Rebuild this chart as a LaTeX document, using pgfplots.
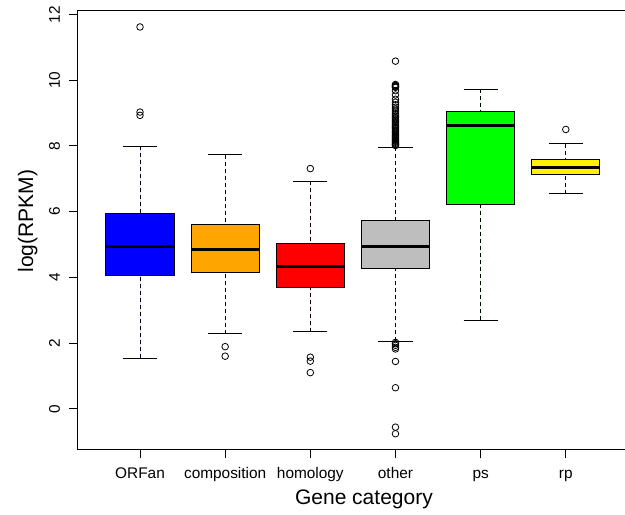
\documentclass[border=0pt]{standalone}
\usepackage{fontspec}
\setmainfont{Liberation Sans}
\usepackage{pgfplots}
\pgfplotsset{compat=1.18}
\usepgfplotslibrary{statistics}
\begin{document}
\begin{tikzpicture}
\begin{axis}[
  at={(77pt,65pt)}, anchor=south west,
  scale only axis, width=551.8pt, height=439.3pt,
  xmin=0.26, xmax=6.74, ymin=-1.255, ymax=12.115,
  xtick={1,2,3,4,5,6},
  xticklabels={ORFan,composition,homology,other,ps,rp},
  ytick={0,2,4,6,8,10,12},
  xtick pos=bottom, ytick pos=left,
  tick align=outside, major tick length=8pt,
  tick style={black, line width=0.9pt},
  axis line style={black, line width=1pt},
  /pgf/number format/assume math mode=true,
  tick label style={font=\fontsize{15.4}{18}\selectfont},
  xticklabel style={anchor=base, yshift=-21pt},
  yticklabel style={rotate=90, anchor=base, yshift=9pt},
  xlabel={Gene category}, ylabel={log(RPKM)},
  every axis x label/.style={at={(axis description cs:0.52,0)}, anchor=base, yshift=-55pt, font=\fontsize{21}{25}\selectfont},
  every axis y label/.style={at={(axis description cs:-0.0797,0.521)}, rotate=90, anchor=base, font=\fontsize{21}{25}\selectfont},
  boxplot/draw direction=y,
  boxplot/box extend=0.8,
  boxplot/whisker extend=0.4,
  boxplot/every box/.style={draw=black, line width=1pt},
  boxplot/every median/.style={draw=black, line width=3pt},
  boxplot/every whisker/.style={draw=black, line width=1pt},
  boxplot/draw/lower whisker/.code={%
    \draw[/pgfplots/boxplot/every whisker/.try, dash pattern=on 4pt off 3pt]
      (boxplot box cs:\pgfplotsboxplotvalue{lower whisker},0.5) -- (boxplot box cs:\pgfplotsboxplotvalue{lower quartile},0.5);
    \draw[/pgfplots/boxplot/every whisker/.try]
      (boxplot whisker cs:\pgfplotsboxplotvalue{lower whisker},0) -- (boxplot whisker cs:\pgfplotsboxplotvalue{lower whisker},1);
  },
  boxplot/draw/upper whisker/.code={%
    \draw[/pgfplots/boxplot/every whisker/.try, dash pattern=on 4pt off 3pt]
      (boxplot box cs:\pgfplotsboxplotvalue{upper whisker},0.5) -- (boxplot box cs:\pgfplotsboxplotvalue{upper quartile},0.5);
    \draw[/pgfplots/boxplot/every whisker/.try]
      (boxplot whisker cs:\pgfplotsboxplotvalue{upper whisker},0) -- (boxplot whisker cs:\pgfplotsboxplotvalue{upper whisker},1);
  },
  every axis plot/.append style={mark=o, mark size=3.3pt, mark options={draw=black, solid, line width=0.8pt, fill=none}},
]
% ORFan
\addplot[boxplot prepared={draw position=1, lower whisker=1.53, lower quartile=4.06, median=4.95, upper quartile=5.94, upper whisker=7.99}, fill=blue]
  table[row sep=\\, y index=0] {y\\ 11.62\\ 9.03\\ 8.93\\};
% composition
\addplot[boxplot prepared={draw position=2, lower whisker=2.28, lower quartile=4.14, median=4.84, upper quartile=5.61, upper whisker=7.73}, fill={rgb,255:red,255;green,165;blue,0}]
  table[row sep=\\, y index=0] {y\\ 1.89\\ 1.60\\};
% homology
\addplot[boxplot prepared={draw position=3, lower whisker=2.35, lower quartile=3.68, median=4.32, upper quartile=5.02, upper whisker=6.92}, fill=red]
  table[row sep=\\, y index=0] {y\\ 7.31\\ 1.57\\ 1.45\\ 1.10\\};
% other
\addplot[boxplot prepared={draw position=4, lower whisker=2.06, lower quartile=4.26, median=4.94, upper quartile=5.73, upper whisker=7.96}, fill={rgb,255:red,190;green,190;blue,190}]
  table[row sep=\\, y index=0] {y\\ 10.58\\ 9.87\\ 9.84\\ 9.82\\ 9.80\\ 9.78\\ 9.68\\ 9.55\\ 9.42\\ 9.33\\ 9.25\\ 9.18\\ 9.12\\ 9.06\\ 9.00\\ 8.95\\ 8.90\\ 8.86\\ 8.82\\ 8.78\\ 8.74\\ 8.70\\ 8.66\\ 8.62\\ 8.58\\ 8.55\\ 8.52\\ 8.48\\ 8.45\\ 8.42\\ 8.39\\ 8.35\\ 8.32\\ 8.29\\ 8.26\\ 8.23\\ 8.20\\ 8.17\\ 8.14\\ 8.11\\ 8.08\\ 8.05\\ 8.03\\ 8.01\\ 2.02\\ 1.98\\ 1.93\\ 1.87\\ 1.82\\ 1.44\\ 0.64\\ -0.56\\ -0.76\\};
% ps
\addplot[boxplot prepared={draw position=5, lower whisker=2.70, lower quartile=6.21, median=8.63, upper quartile=9.05, upper whisker=9.73}, fill={rgb,255:red,0;green,255;blue,0}]
  coordinates {};
% rp
\addplot[boxplot prepared={draw position=6, lower whisker=6.54, lower quartile=7.12, median=7.35, upper quartile=7.58, upper whisker=8.07}, fill=yellow]
  table[row sep=\\, y index=0] {y\\ 8.50\\};
\end{axis}
\pgfresetboundingbox
\useasboundingbox (0,0) rectangle (625pt,515pt);
\end{tikzpicture}
\end{document}
